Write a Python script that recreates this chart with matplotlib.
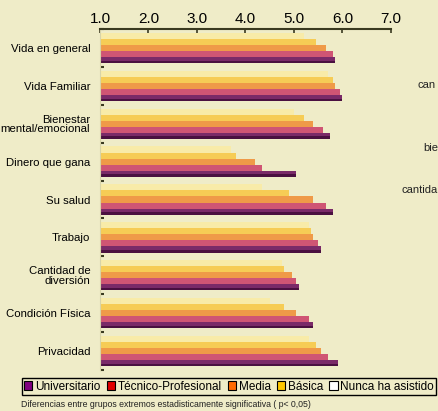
import matplotlib
matplotlib.use('Agg')
import matplotlib.pyplot as plt
from matplotlib.patches import Patch
import numpy as np

categorias = ['Vida en general', 'Vida Familiar', 'Bienestar\nmental/emocional',
              'Dinero que gana', 'Su salud', 'Trabajo', 'Cantidad de\ndiversión',
              'Condición Física', 'Privacidad']

nunca = [5.2, 5.7, 5.0, 3.7, 4.35, 5.3, 4.75, 4.5, 5.3]
basica = [5.45, 5.8, 5.2, 3.8, 4.9, 5.35, 4.8, 4.8, 5.45]
media = [5.65, 5.85, 5.4, 4.2, 5.4, 5.4, 4.95, 5.05, 5.55]
tecnico = [5.8, 5.95, 5.6, 4.35, 5.65, 5.5, 5.05, 5.3, 5.7]
universitario = [5.85, 6.0, 5.75, 5.05, 5.8, 5.55, 5.1, 5.4, 5.9]

series = ['Universitario', 'Técnico-Profesional', 'Media', 'Básica', 'Nunca ha asistido']
ticks = [1.0, 2.0, 3.0, 4.0, 5.0, 6.0, 7.0]

# colores como se ven las barras (degradado) y como aparecen en la leyenda
bar_colors = ['#7a2a68', '#cf5574', '#ef9a48', '#f6cc55', '#f8eba8']
legend_colors = ['#800080', '#e00000', '#ff6a00', '#ffc800', '#ffffff']
bg = '#efecc8'

plt.rcParams['font.family'] = ['Liberation Sans', 'DejaVu Sans']

fig = plt.figure(figsize=(4.39, 4.11), dpi=100, facecolor=bg)
ax = fig.add_axes([100 / 439, 1 - 370 / 411, 291 / 439, 341 / 411])
ax.set_facecolor(bg)

y = np.arange(len(categorias))
h = 0.16
valores = [universitario, tecnico, media, basica, nunca]
for i, (vals, col) in enumerate(zip(valores, bar_colors)):
    offset = (2 - i) * h
    ax.barh(y + offset, vals, height=h, color=col, edgecolor='none')
# sombra inferior del cilindro
ax.barh(y + 2 * h + h * 0.3, universitario, height=h * 0.4, color='#4a1040', edgecolor='none')

ax.set_xlim(1, 7)
ax.set_ylim(8.45, -0.47)
ax.xaxis.tick_top()
ax.set_xticks(ticks)
ax.set_xticklabels([f'{t:.1f}' for t in ticks], fontsize=11)
ax.tick_params(axis='x', direction='in', length=3, width=1.2, color='#3a3a20', pad=2)

ax.set_yticks(y)
ax.set_yticklabels(categorias, fontsize=8.2, linespacing=0.95)
ax.tick_params(axis='y', length=0, pad=7)
ax.set_yticks(np.arange(len(categorias) + 1) - 0.5, minor=True)
ax.tick_params(axis='y', which='minor', length=3, width=1.5, color='#3a3a20', direction='in')

for s in ['right', 'bottom']:
    ax.spines[s].set_visible(False)
ax.spines['top'].set_color('#3a3a20')
ax.spines['top'].set_linewidth(1.5)
ax.spines['left'].set_color('#d8d4a8')
ax.spines['left'].set_linewidth(0.8)

handles = [Patch(facecolor=c, edgecolor='black', linewidth=0.8) for c in legend_colors]
fig.legend(handles, series, loc='center', bbox_to_anchor=(0.5216, 1 - 386.5 / 411),
           ncol=5, fontsize=8.5, frameon=True, fancybox=False, edgecolor='black',
           facecolor=bg, framealpha=1, handlelength=0.7, handleheight=0.7,
           handletextpad=0.2, columnspacing=0.55, borderpad=0.2, borderaxespad=0)

fig.text(21 / 439, 1 - 404 / 411,
         'Diferencias entre grupos extremos estadisticamente significativa ( p< 0,05)',
         fontsize=6.3, va='center', ha='left', color='#222222')

# fragmentos de texto visibles en el borde derecho
fig.text(418 / 439, 1 - 85 / 411, 'can', fontsize=8, va='center', color='#222222')
fig.text(423 / 439, 1 - 148 / 411, 'bie', fontsize=8, va='center', color='#222222')
fig.text(402 / 439, 1 - 190 / 411, 'cantida', fontsize=8, va='center', color='#222222')

fig.savefig('out.png', dpi=100, facecolor=bg)
